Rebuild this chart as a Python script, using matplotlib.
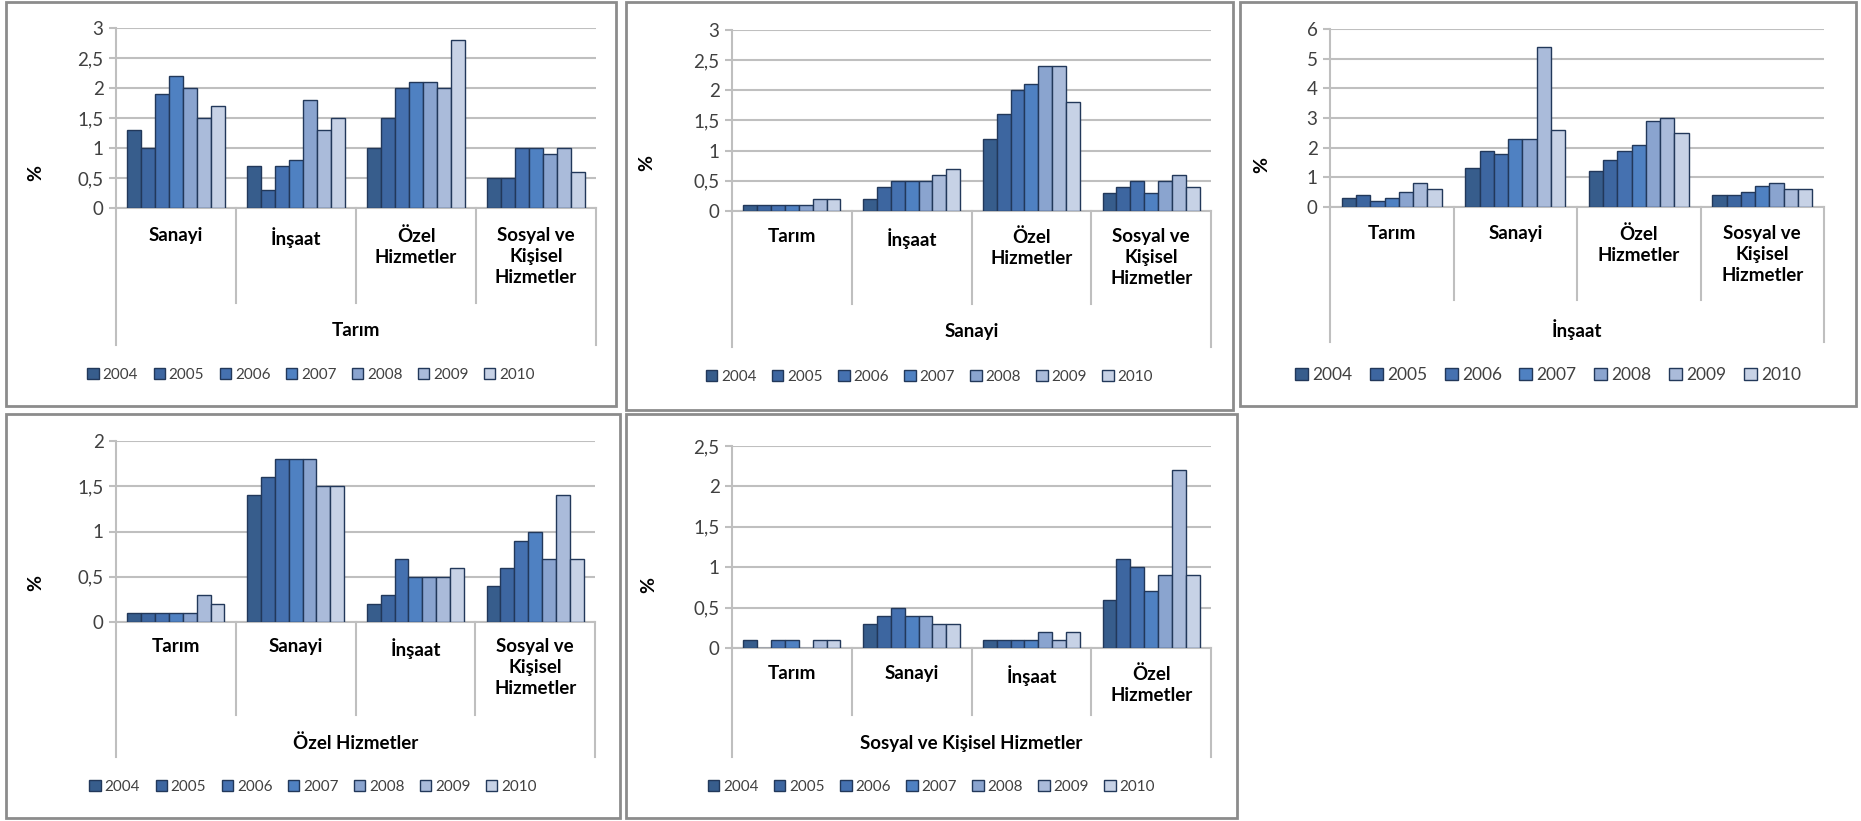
import numpy as np
import matplotlib
matplotlib.use("Agg")
import matplotlib.pyplot as plt
from matplotlib.patches import Rectangle, Patch
from matplotlib.ticker import FuncFormatter

plt.rcParams['font.family'] = ['Lato', 'DejaVu Sans']

# ================= DATA =================
years = ['2004', '2005', '2006', '2007', '2008', '2009', '2010']
sectors = ['Tarım', 'Sanayi', 'İnşaat', 'Özel Hizmetler', 'Sosyal ve Kişisel Hizmetler']
sector_labels = ['Tarım', 'Sanayi', 'İnşaat', 'Özel\nHizmetler', 'Sosyal ve\nKişisel\nHizmetler']

# rows = other sectors (in order), cols = years
tarim_vals = [
    [1.3, 1.0, 1.9, 2.2, 2.0, 1.5, 1.7],   # Sanayi
    [0.7, 0.3, 0.7, 0.8, 1.8, 1.3, 1.5],   # İnşaat
    [1.0, 1.5, 2.0, 2.1, 2.1, 2.0, 2.8],   # Özel Hizmetler
    [0.5, 0.5, 1.0, 1.0, 0.9, 1.0, 0.6],   # Sosyal ve Kişisel
]
sanayi_vals = [
    [0.1, 0.1, 0.1, 0.1, 0.1, 0.2, 0.2],   # Tarım
    [0.2, 0.4, 0.5, 0.5, 0.5, 0.6, 0.7],   # İnşaat
    [1.2, 1.6, 2.0, 2.1, 2.4, 2.4, 1.8],   # Özel Hizmetler
    [0.3, 0.4, 0.5, 0.3, 0.5, 0.6, 0.4],   # Sosyal ve Kişisel
]
insaat_vals = [
    [0.3, 0.4, 0.2, 0.3, 0.5, 0.8, 0.6],   # Tarım
    [1.3, 1.9, 1.8, 2.3, 2.3, 5.4, 2.6],   # Sanayi
    [1.2, 1.6, 1.9, 2.1, 2.9, 3.0, 2.5],   # Özel Hizmetler
    [0.4, 0.4, 0.5, 0.7, 0.8, 0.6, 0.6],   # Sosyal ve Kişisel
]
ozel_vals = [
    [0.1, 0.1, 0.1, 0.1, 0.1, 0.3, 0.2],   # Tarım
    [1.4, 1.6, 1.8, 1.8, 1.8, 1.5, 1.5],   # Sanayi
    [0.2, 0.3, 0.7, 0.5, 0.5, 0.5, 0.6],   # İnşaat
    [0.4, 0.6, 0.9, 1.0, 0.7, 1.4, 0.7],   # Sosyal ve Kişisel
]
sosyal_vals = [
    [0.1, 0.0, 0.1, 0.1, 0.0, 0.1, 0.1],   # Tarım
    [0.3, 0.4, 0.5, 0.4, 0.4, 0.3, 0.3],   # Sanayi
    [0.1, 0.1, 0.1, 0.1, 0.2, 0.1, 0.2],   # İnşaat
    [0.6, 1.1, 1.0, 0.7, 0.9, 2.2, 0.9],   # Özel Hizmetler
]

year_colors = ['#375D8C', '#3D66A0', '#4571B0', '#4F81C2', '#8AA4CF', '#AABBDA', '#C7D2E6']
EDGE = '#22385A'
GRID = '#BFBFBF'
BOX = '#8C8C8C'

# ================= LAYOUT (pixels) =================
W, H = 1861, 821
# box, plot area (left, top, right, zero), ymax, step, sep bottom, outer bottom,
# category label y, group label y, legend y, legend size, % position
panels = [
    dict(own=0, vals=tarim_vals, box=(6, 2, 616, 406), plot=(116, 28, 596, 208), ymax=3, step=0.5,
         sep=303, outer=345, cat=237, grp=330, leg=375, legsize=11, pct=(36, 173)),
    dict(own=1, vals=sanayi_vals, box=(626, 2, 1233, 410), plot=(732, 30, 1211, 211), ymax=3, step=0.5,
         sep=304, outer=347, cat=238, grp=332, leg=377, legsize=11, pct=(647, 163)),
    dict(own=2, vals=insaat_vals, box=(1240, 2, 1856, 406), plot=(1330, 29, 1824, 207), ymax=6, step=1,
         sep=300, outer=342, cat=235, grp=330, leg=375, legsize=12.5, pct=(1262, 165)),
    dict(own=3, vals=ozel_vals, box=(6, 414, 620, 818), plot=(116, 441, 595, 622), ymax=2, step=0.5,
         sep=715, outer=757, cat=648, grp=743, leg=787, legsize=11, pct=(36, 583)),
    dict(own=4, vals=sosyal_vals, box=(626, 414, 1237, 818), plot=(732, 446, 1211, 648), ymax=2.5, step=0.5,
         sep=715, outer=757, cat=675, grp=743, leg=787, legsize=11, pct=(649, 585)),
]

fig = plt.figure(figsize=(W / 100, H / 100), dpi=100)
comma = FuncFormatter(lambda v, p: f"{v:g}".replace('.', ','))

n_years = len(years)
bw = 0.81 / n_years

for p in panels:
    x0, y0, x1, y1 = p['box']
    fig.add_artist(Rectangle((x0 / W, 1 - y1 / H), (x1 - x0) / W, (y1 - y0) / H,
                             fill=False, ec=BOX, lw=2, transform=fig.transFigure))
    L, T, R, Z = p['plot']
    ax = fig.add_axes([L / W, 1 - Z / H, (R - L) / W, (Z - T) / H])
    others = [i for i in range(len(sectors)) if i != p['own']]
    vals = np.array(p['vals'])

    for j in range(n_years):
        xs = np.arange(len(others)) + 0.5 + (j - (n_years - 1) / 2) * bw
        ax.bar(xs, vals[:, j], width=bw, color=year_colors[j], edgecolor=EDGE, lw=1, zorder=3)

    ax.set_xlim(0, len(others))
    ax.set_ylim(0, p['ymax'])
    ax.set_yticks(np.arange(0, p['ymax'] + p['step'] / 2, p['step']))
    ax.yaxis.set_major_formatter(comma)
    ax.yaxis.grid(True, color=GRID, lw=1.5)
    ax.set_axisbelow(True)
    ax.set_xticks([])
    for s in ['top', 'right']:
        ax.spines[s].set_visible(False)
    ax.spines['left'].set_color(GRID)
    ax.spines['left'].set_linewidth(1.5)
    ax.spines['bottom'].set_color(GRID)
    ax.spines['bottom'].set_linewidth(1.5)
    ax.tick_params(axis='y', length=5, width=1.5, color=GRID, labelsize=13.5, labelcolor='#404040', pad=4)

    def fy(ypx):
        return (Z - ypx) / (Z - T)

    tr = ax.get_xaxis_transform()
    for k in range(1, len(others)):
        ax.plot([k, k], [0, fy(p['sep'])], color=GRID, lw=1.5, transform=tr, clip_on=False)
    for k in [0, len(others)]:
        ax.plot([k, k], [0, fy(p['outer'])], color=GRID, lw=1.5, transform=tr, clip_on=False)

    for k, si in enumerate(others):
        ax.text(k + 0.5, fy(p['cat'] - 10), sector_labels[si], transform=tr, ha='center', va='top',
                fontsize=13.5, fontweight='bold', linespacing=1.3)
    ax.text(0.5, fy(p['grp']), sectors[p['own']], transform=ax.transAxes, ha='center', va='center',
            fontsize=13.5, fontweight='bold')

    fig.text(p['pct'][0] / W, 1 - p['pct'][1] / H, '%', rotation=90, ha='center', va='center',
             fontsize=14, fontweight='bold')

    handles = [Patch(facecolor=c, edgecolor=EDGE, lw=1) for c in year_colors]
    fig.legend(handles, years, loc='center', bbox_to_anchor=((x0 + x1) / 2 / W, 1 - p['leg'] / H),
               ncol=n_years, frameon=False, fontsize=p['legsize'], handlelength=0.75, handleheight=0.75,
               handletextpad=0.25, columnspacing=1.0, labelcolor='#404040')

fig.savefig("out.png", dpi=100)
